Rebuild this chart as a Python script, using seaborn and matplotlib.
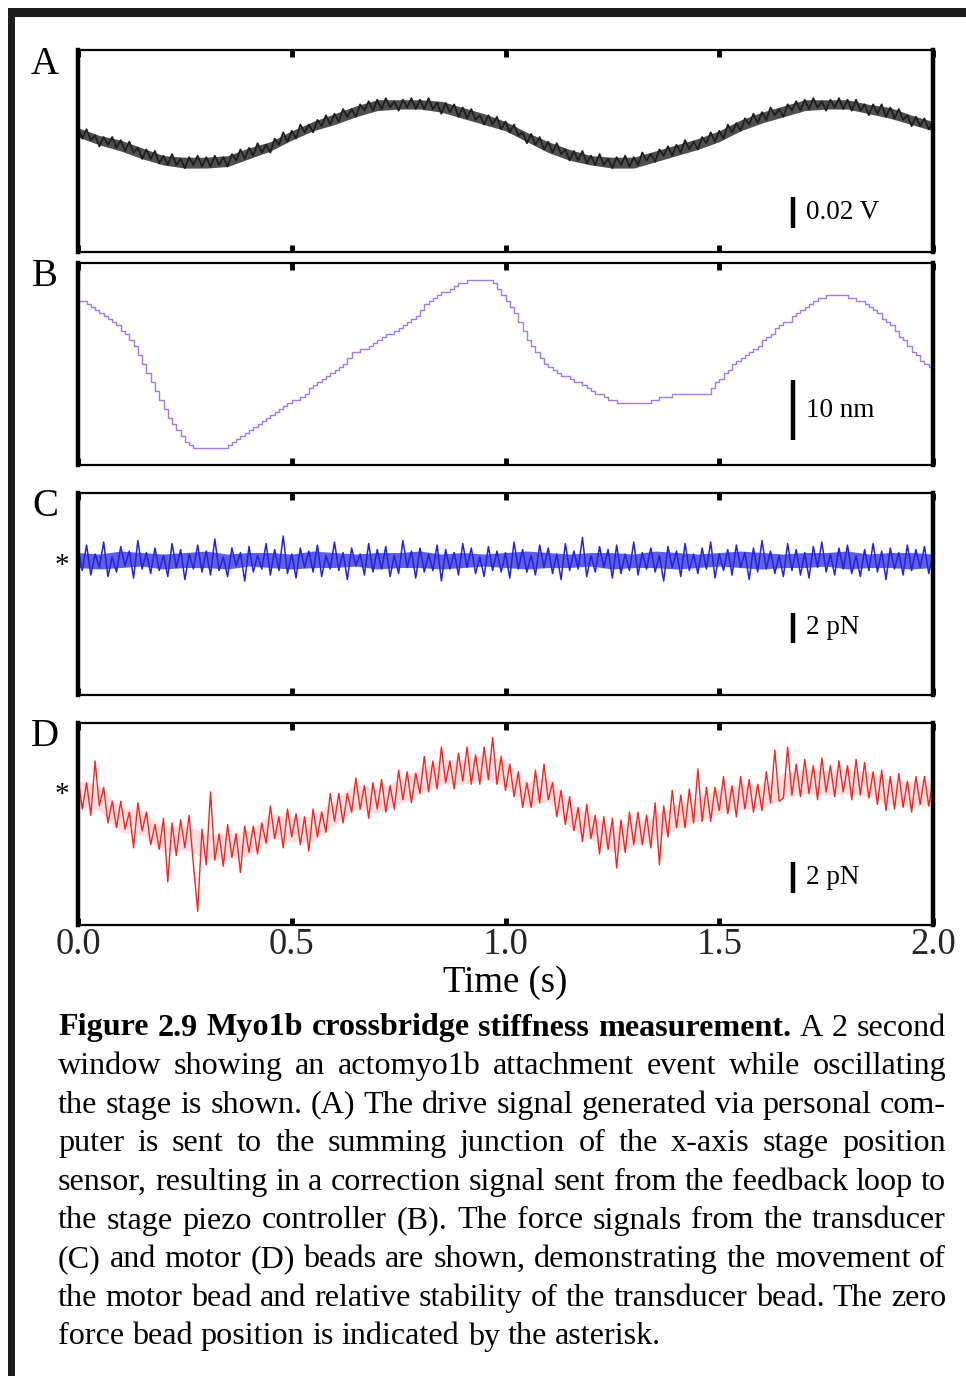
import numpy as np
import matplotlib
matplotlib.use("Agg")
import matplotlib.pyplot as plt
import matplotlib.transforms as mtransforms
from matplotlib.patches import Rectangle
import seaborn as sns

# --- data ---
DT = 0.01       # s between read-off points of the traces
ENV_DT = 0.05   # s between read-off points of the dense band edges

# A: drive signal (mV)
drive_mV = [
    2, -5, 1, -6, -3, -10, -4, -9, -4, -11,
    -6, -13, -7, -14, -11, -18, -12, -18, -13, -21,
    -16, -22, -15, -22, -18, -24, -17, -22, -16, -23,
    -17, -23, -16, -22, -17, -23, -15, -19, -12, -18,
    -11, -16, -8, -14, -9, -14, -5, -9, -1, -7,
    0, -5, 4, -1, 4, -1, 7, 3, 10, 4,
    11, 6, 14, 9, 14, 9, 17, 13, 19, 13,
    20, 14, 21, 15, 19, 13, 20, 15, 21, 14,
    20, 14, 21, 14, 18, 11, 18, 12, 17, 9,
    15, 8, 14, 7, 10, 4, 10, 4, 9, 1,
    6, -1, 4, -3, -1, -8, -2, -9, -4, -12,
    -7, -14, -8, -15, -12, -19, -13, -19, -13, -21,
    -16, -22, -15, -22, -18, -24, -17, -22, -16, -23,
    -17, -22, -14, -19, -15, -20, -12, -16, -10, -16,
    -9, -14, -6, -12, -7, -12, -4, -8, -1, -7,
    0, -5, 4, -1, 5, 0, 8, 4, 11, 5,
    12, 7, 15, 10, 14, 9, 17, 13, 19, 13,
    20, 14, 21, 15, 19, 13, 20, 15, 21, 14,
    20, 13, 20, 13, 17, 10, 17, 11, 17, 9,
    15, 8, 14, 7, 10, 3, 9, 3, 8, 1,
    6,
]
# edges of the dense part of the A band (mV)
drive_hi = [2, -3, -6, -11, -16, -17, -17, -16, -11, -7, 0, 6, 11, 16, 20, 20, 20, 19, 15, 11,
            6, -1, -7, -12, -16, -17, -17, -13, -9, -5, 0, 7, 12, 16, 20, 20, 20, 17, 15, 10, 6]
drive_lo = [-4, -9, -13, -18, -22, -24, -24, -23, -18, -13, -6, 0, 4, 9, 13, 14, 14, 12, 8, 4,
            0, -7, -14, -19, -22, -24, -24, -20, -16, -12, -7, 0, 5, 9, 13, 14, 14, 11, 8, 4, 0]

# B: stage piezo position (nm), staircase
piezo_nm = [
    10.5, 10.5, 10.0, 9.5, 9.0, 8.5, 8.0, 7.5, 7.0, 6.5, 5.5, 5.0, 4.0, 3.0, 1.5, 0.0, -1.5, -3.0, -4.5, -6.0,
    -7.5, -9.0, -10.0, -11.0, -12.0, -13.0, -13.5, -14.0, -14.0, -14.0, -14.0, -14.0, -14.0, -14.0, -14.0,
    -13.5, -13.0, -12.5, -12.0, -11.5,
    -11.0, -10.5, -10.0, -9.5, -9.0, -8.5, -8.0, -7.5, -7.0, -6.5, -6.0, -6.0, -5.5, -5.0, -4.0, -3.5,
    -3.0, -2.5, -2.0, -1.5,
    -1.0, -0.5, 0.0, 1.0, 2.0, 2.0, 2.5, 2.5, 3.0, 3.5, 4.0, 4.5, 5.0, 5.0, 5.5, 6.0, 6.5, 7.0, 7.5, 8.0,
    9.0, 10.0, 10.5, 11.0, 11.5, 12.0, 12.0, 12.5, 13.0, 13.5, 13.5, 14.0, 14.0, 14.0, 14.0, 14.0, 14.0,
    13.5, 12.5, 11.5,
    10.5, 9.5, 8.5, 7.0, 5.5, 4.0, 3.0, 2.0, 1.0, 0.0, -0.5, -1.0, -1.5, -2.0, -2.0, -2.5, -3.0, -3.0,
    -3.5, -4.0,
    -4.5, -5.0, -5.0, -5.5, -6.0, -6.0, -6.5, -6.5, -6.5, -6.5, -6.5, -6.5, -6.5, -6.5, -6.0, -6.0,
    -5.5, -5.5, -5.5, -5.0,
    -5.0, -5.0, -5.0, -5.0, -5.0, -5.0, -5.0, -5.0, -4.0, -3.0, -2.5, -1.5, -1.0, 0.0, 0.5, 1.0, 1.5,
    2.0, 2.5, 3.0,
    4.0, 4.5, 5.0, 6.0, 6.5, 7.0, 7.0, 8.0, 8.5, 9.0, 9.5, 10.0, 10.5, 11.0, 11.0, 11.5, 11.5, 11.5,
    11.5, 11.5,
    11.0, 11.0, 10.5, 10.5, 10.0, 9.5, 9.0, 8.5, 7.5, 7.0, 6.5, 5.5, 4.5, 4.0, 3.0, 2.0, 1.5, 0.5,
    0.0, -0.5,
    -1.0,
]

# C: transducer bead force (pN)
trap_pN = [
    0.9, -0.5, 1.2, -0.8, 0.6, -0.3, 1.4, -0.9, 0.4, -0.6,
    1.1, -0.2, 0.8, -1.0, 1.5, -0.4, 0.7, -0.7, 1.0, -0.5,
    0.5, -0.9, 1.3, -0.3, 0.9, -1.1, 0.6, -0.4, 1.2, -0.6,
    0.8, -0.8, 1.6, -0.5, 0.4, -0.9, 1.0, -0.2, 0.7, -1.2,
    1.1, -0.6, 0.5, -0.4, 1.3, -0.8, 0.9, -0.5, 1.8, -0.7,
    0.6, -1.0, 1.0, -0.3, 0.8, -0.6, 1.2, -0.9, 0.5, -0.4,
    1.4, -0.5, 0.7, -1.1, 1.0, -0.2, 0.6, -0.8, 1.3, -0.6,
    0.9, -0.4, 1.1, -0.9, 0.5, -0.7, 1.5, -0.3, 0.8, -1.0,
    1.0, -0.6, 0.6, -0.5, 1.2, -1.2, 0.9, -0.4, 0.7, -0.8,
    1.3, -0.3, 1.0, -0.7, 0.4, -0.9, 1.1, -0.5, 0.8, -0.6,
    0.7, -1.0, 1.4, -0.4, 0.9, -0.6, 0.5, -0.8, 1.2, -0.3,
    1.0, -0.7, 0.6, -1.1, 1.3, -0.5, 0.8, -0.4, 1.7, -0.9,
    0.5, -0.6, 1.1, -0.3, 0.9, -1.0, 1.2, -0.7, 0.6, -0.5,
    1.4, -0.8, 0.7, -0.4, 1.0, -0.6, 0.5, -1.2, 1.1, -0.3,
    0.8, -0.9, 1.3, -0.5, 0.6, -0.7, 1.0, -0.4, 1.4, -1.0,
    0.6, -0.5, 0.9, -0.8, 1.2, -0.3, 0.7, -1.1, 1.0, -0.6,
    1.5, -0.4, 0.8, -0.7, 0.5, -0.9, 1.3, -0.5, 0.9, -0.8,
    0.7, -1.0, 1.1, -0.3, 1.4, -0.6, 0.6, -0.8, 1.0, -0.4,
    1.2, -0.7, 0.5, -0.9, 0.9, -0.5, 1.3, -0.6, 0.8, -1.1,
    1.0, -0.4, 0.7, -0.8, 1.2, -0.5, 0.9, -0.3, 1.1, -0.7,
    0.6,
]
trap_hi = [0.7, 0.6, 0.8, 0.7, 0.6, 0.7, 0.8, 0.6, 0.7, 0.7, 0.6, 0.8, 0.7, 0.6, 0.7, 0.7, 0.8,
           0.6, 0.7, 0.6, 0.7, 0.8, 0.7, 0.6, 0.7, 0.7, 0.6, 0.8, 0.7, 0.6, 0.7, 0.8, 0.7, 0.6,
           0.7, 0.7, 0.8, 0.6, 0.7, 0.7, 0.6]
trap_lo = [-0.3, -0.4, -0.3, -0.2, -0.4, -0.3, -0.3, -0.4, -0.2, -0.3, -0.4, -0.3, -0.3, -0.2,
           -0.4, -0.3, -0.3, -0.4, -0.3, -0.2, -0.3, -0.4, -0.3, -0.3, -0.2, -0.4, -0.3, -0.3,
           -0.4, -0.3, -0.2, -0.3, -0.4, -0.3, -0.3, -0.2, -0.4, -0.3, -0.3, -0.4, -0.3]

# D: motor bead force (pN)
motor_pN = [
    0.9, -1.1, 0.6, -1.5, 2.0, -0.9, 0.3, -2.0, -0.6, -2.3,
    -0.6, -2.4, -1.3, -3.6, -0.7, -2.5, -1.3, -3.4, -2.1, -3.7,
    -1.7, -5.8, -2.0, -4.1, -1.8, -3.6, -1.5, -4.7, -7.7, -2.4,
    -4.7, 0.0, -4.4, -2.7, -4.8, -2.1, -4.2, -2.7, -5.2, -2.2,
    -3.9, -2.2, -4.0, -2.0, -3.3, -0.9, -3.0, -1.6, -3.6, -1.1,
    -2.9, -1.4, -3.4, -1.6, -3.8, -1.1, -2.9, -1.3, -2.6, -0.1,
    -1.9, -0.1, -2.0, -0.1, -1.3, 0.9, -1.1, 0.4, -1.7, 0.6,
    -1.1, 0.8, -1.3, 0.4, -1.1, 1.4, -0.5, 1.3, -0.7, 1.2,
    -0.1, 2.3, 0.0, 2.0, 0.2, 2.9, 0.6, 2.0, 0.2, 2.5,
    0.7, 2.9, 0.5, 2.4, 0.5, 2.9, 0.8, 3.5, 0.5, 2.3,
    0.1, 1.8, -0.3, 1.3, -1.0, 0.6, -1.0, 1.4, -0.7, 1.8,
    -0.5, 0.6, -1.6, 0.1, -2.1, -0.3, -2.5, -1.0, -3.2, -0.8,
    -3.0, -1.5, -4.0, -1.6, -3.7, -1.7, -4.9, -1.8, -3.9, -1.3,
    -3.4, -1.3, -3.4, -1.5, -3.6, -0.7, -4.7, -0.9, -2.9, 0.1,
    -2.3, -0.2, -2.3, 0.2, -2.0, 1.5, -1.9, 0.3, -1.9, 0.3,
    -1.2, 1.0, -1.4, 0.4, -1.6, 1.0, -1.1, 0.8, -1.3, 0.5,
    -1.2, 1.3, -0.7, 2.7, -0.6, -0.4, 2.9, -0.2, 1.8, -0.3,
    2.1, -0.1, 1.7, -0.5, 2.2, 0.0, 1.7, -0.3, 2.0, 0.0,
    1.7, -0.5, 2.1, -0.2, 1.9, -0.4, 1.3, -0.8, 1.4, -1.2,
    1.0, -1.1, 1.2, -1.0, 0.7, -1.3, 1.0, -0.8, 1.0, -0.9,
    0.7,
]
motor_hi = [0.7, 0.4, -1.0, -1.2, -2.3, -2.1, -2.7, -2.7, -2.5, -1.4, -1.6, -1.6, -0.5, 0.5, 0.2,
            0.8, 1.5, 2.1, 2.1, 2.4, 2.0, 0.6, 1.0, -0.7, -1.5, -2.3, -1.9, -1.5, -0.8, -0.3,
            0.2, 0.5, 0.5, 1.2, 1.5, 1.4, 1.5, 1.3, 0.8, 0.6, 0.8]
motor_lo = [-0.9, -1.2, -2.6, -2.8, -3.9, -3.7, -4.3, -4.3, -4.1, -3.0, -3.2, -3.2, -2.1, -1.1,
            -1.4, -0.8, -0.1, 0.5, 0.5, 0.8, 0.4, -1.0, -0.6, -2.3, -3.1, -3.9, -3.5, -3.1, -2.4,
            -1.9, -1.4, -1.1, -1.1, -0.4, -0.1, -0.2, -0.1, -0.3, -0.8, -1.0, -0.8]

time_ticks = [0.0, 0.5, 1.0, 1.5, 2.0]
time_labels = ["0.0", "0.5", "1.0", "1.5", "2.0"]
panel_letters = ["A", "B", "C", "D"]
scale_labels = ["0.02 V", "10 nm", "2 pN", "2 pN"]
scale_sizes = [20, 10, 2, 2]          # bar length in each panel's unit

caption_lines = [
    [("Figure", "bold"), ("2.9", "bold"), ("Myo1b", "bold"), ("crossbridge", "bold"),
     ("stiffness", "bold"), ("measurement.", "bold"), ("A", "normal"), ("2", "normal"),
     ("second", "normal")],
    "window showing an actomyo1b attachment event while oscillating",
    "the stage is shown.  (A) The drive signal generated via personal com-",
    "puter is sent to the summing junction of the x-axis stage position",
    "sensor, resulting in a correction signal sent from the feedback loop to",
    "the stage piezo controller (B).  The force signals from the transducer",
    "(C) and motor (D) beads are shown, demonstrating the movement of",
    "the motor bead and relative stability of the transducer bead.  The zero",
    "force bead position is indicated by the asterisk.",
]

# --- layout / style ---
W, H = 966, 1376
SERIF = ["Liberation Serif", "DejaVu Serif"]
panels = [
    dict(vals=drive_mV, hi=drive_hi, lo=drive_lo, color="#1e1e1e", fill="#3c3c3c", alpha=0.9,
         lw=1.3, ylim=(-78, 52), bar=-62.6, top=50),
    dict(vals=piezo_nm, color="#a27af0", lw=1.0, ylim=(-16.8, 16.8), bar=-12.67, top=263,
         steps=True),
    dict(vals=trap_pN, hi=trap_hi, lo=trap_lo, color="#2222e0", fill="#2a2ad8", alpha=0.75,
         lw=1.1, ylim=(-8.8, 4.67), bar=-5.33, top=493, star=True),
    dict(vals=motor_pN, hi=motor_hi, lo=motor_lo, color="#ff2020", fill="#ff5050", alpha=0.18,
         lw=1.0, ylim=(-8.58, 4.45), bar=-6.52, top=723, star=True),
]
AX_L, AX_R, AX_H = 78, 933, 202
BAR_T = 1.672

sns.set_theme(style="white")
plt.rcParams["font.family"] = SERIF

fig = plt.figure(figsize=(W / 100, H / 100), dpi=100)
fig.patch.set_facecolor("white")

# page frame (top and left black rules)
fig.add_artist(Rectangle((8 / W, 1 - 17 / H), (W - 8) / W, 9 / H, transform=fig.transFigure,
                         color="#1c1c1c", lw=0))
fig.add_artist(Rectangle((8 / W, 0), 7 / W, 1 - 8 / H, transform=fig.transFigure,
                         color="#1c1c1c", lw=0))

axes = []
for i, p in enumerate(panels):
    ax = fig.add_axes([AX_L / W, 1 - (p["top"] + AX_H) / H, (AX_R - AX_L) / W, AX_H / H])
    if "hi" in p:
        te = np.arange(len(p["hi"])) * ENV_DT
        ax.fill_between(te, p["lo"], p["hi"], color=p["fill"], alpha=p["alpha"], lw=0)
    t = np.arange(len(p["vals"])) * DT
    kw = dict(drawstyle="steps-post") if p.get("steps") else {}
    sns.lineplot(x=t, y=p["vals"], ax=ax, color=p["color"], linewidth=p["lw"],
                 estimator=None, legend=False, **kw)
    ax.set_xlim(0, 2.0)
    ax.set_ylim(*p["ylim"])
    ax.set_yticks([])
    ax.set_ylabel("")
    ax.set_xlabel("")
    ax.set_xticks(time_ticks)
    for side in ["left", "right"]:
        ax.spines[side].set_linewidth(3.2)
        ax.spines[side].set_color("black")
    for side in ["top", "bottom"]:
        ax.spines[side].set_linewidth(1.6)
        ax.spines[side].set_color("black")
    ax.tick_params(axis="x", which="both", direction="in", length=5, width=3.5, color="black",
                   top=True, bottom=True, labelbottom=False)

    # scale bar
    ax.plot([BAR_T, BAR_T], [p["bar"], p["bar"] + scale_sizes[i]], color="black", lw=3.2,
            solid_capstyle="butt")
    ax.text(BAR_T + 0.032, p["bar"] + scale_sizes[i] / 2, scale_labels[i], fontsize=19.5,
            ha="left", va="center", color="black")

    # zero-force asterisk
    if p.get("star"):
        trans = mtransforms.blended_transform_factory(ax.transAxes, ax.transData)
        ax.text(-0.019, 0, "*", transform=trans, fontsize=21, ha="center", va="center_baseline",
                color="black")

    fig.text(45 / W, 1 - (p["top"] + 14) / H, panel_letters[i], fontsize=28, ha="center",
             va="center", color="black")
    axes.append(ax)

ax_d = axes[-1]
ax_d.tick_params(axis="x", labelbottom=True, labelsize=26.5, pad=2)
ax_d.set_xticklabels(time_labels)
ax_d.set_xlabel("Time (s)", fontsize=26.5, labelpad=2, color="black")

# --- caption, justified line by line ---
CAP_FS = 23.1
CAP_X0, CAP_X1 = 58, 946
CAP_Y0, CAP_DY = 1028, 38.6
renderer = fig.canvas.get_renderer()
for n, line in enumerate(caption_lines):
    words = line if isinstance(line, list) else [(w, "normal") for w in line.split()]
    y = 1 - (CAP_Y0 + n * CAP_DY) / H
    arts = [fig.text(0, y, w, fontsize=CAP_FS, fontweight=wt, ha="left", va="center",
                     color="black") for w, wt in words]
    widths = [a.get_window_extent(renderer).width for a in arts]
    last = n == len(caption_lines) - 1
    gap = CAP_FS * 100 / 72 * 0.25 if last else (CAP_X1 - CAP_X0 - sum(widths)) / (len(arts) - 1)
    x = CAP_X0
    for a, w in zip(arts, widths):
        a.set_x(x / W)
        x += w + gap

fig.savefig("out.png", dpi=100, facecolor="white")
